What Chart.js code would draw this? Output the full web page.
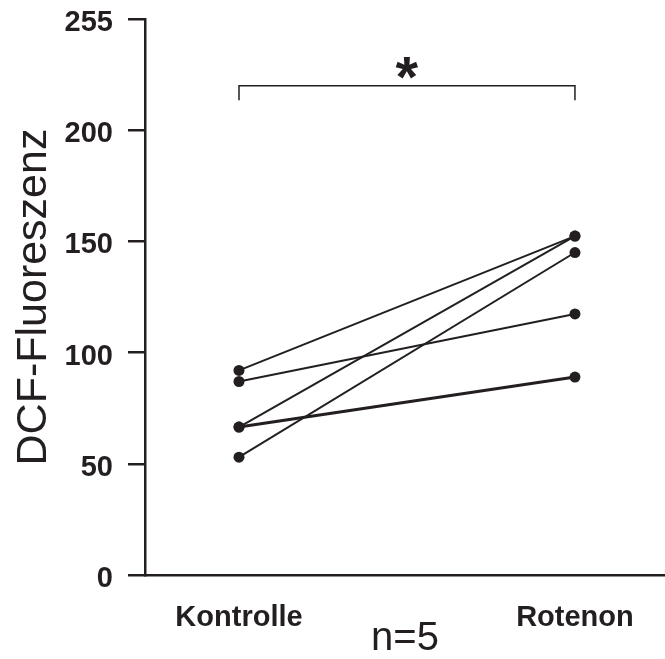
<!DOCTYPE html>
<html>
<head>
<meta charset="utf-8">
<title>DCF-Fluoreszenz</title>
<script src="https://cdn.jsdelivr.net/npm/chart.js@4"></script>
<style>
  html, body { margin: 0; padding: 0; background: #fff; }
  canvas { display: block; }
</style>
</head>
<body>
<canvas id="chart" width="665" height="659"></canvas>
<script>
// groups on the x axis
const categories = ['Kontrolle', 'Rotenon'];
// one value per subject (n=5), paired by index
const kontrolle = [92, 87, 66.5, 53, 66.5];
const rotenon = [152.4, 117.4, 152.4, 145, 89];
// y axis ticks and what is printed at them
const yTicks = [0, 50, 100, 150, 200, 250];
const yTickLabels = ['0', '50', '100', '150', '200', '255'];
// significance bracket (y values) and its mark
const bracket = [213.5, 220];
const starValue = 228;
const starText = '*';
const sampleNote = 'n=5';

const ink = '#231f20';
const fontFamily = "'Liberation Sans', Arial, Helvetica, sans-serif";

const datasets = kontrolle.map((k, i) => ({
  data: [{ x: 1, y: k }, { x: 2, y: rotenon[i] }],
  borderColor: ink,
  backgroundColor: ink,
  borderWidth: i === 4 ? 3 : 2,
  pointRadius: 5.5,
  pointBorderWidth: 0,
  pointBackgroundColor: ink,
  tension: 0
}));

const bracketPlugin = {
  id: 'bracket',
  afterDatasetsDraw(chart) {
    const { ctx, scales: { x, y } } = chart;
    const x1 = x.getPixelForValue(1);
    const x2 = x.getPixelForValue(2);
    const yLow = y.getPixelForValue(bracket[0]);
    const yHigh = y.getPixelForValue(bracket[1]);
    ctx.save();
    ctx.strokeStyle = ink;
    ctx.lineWidth = 1.5;
    ctx.beginPath();
    ctx.moveTo(x1, yLow);
    ctx.lineTo(x1, yHigh);
    ctx.lineTo(x2, yHigh);
    ctx.lineTo(x2, yLow);
    ctx.stroke();

    // centre the ink of the star on its value
    ctx.fillStyle = ink;
    ctx.font = 'bold 58px ' + fontFamily;
    ctx.textAlign = 'left';
    ctx.textBaseline = 'alphabetic';
    const m = ctx.measureText(starText);
    const cx = (x1 + x2) / 2;
    const cy = y.getPixelForValue(starValue);
    const inkW = m.actualBoundingBoxLeft + m.actualBoundingBoxRight;
    const inkH = m.actualBoundingBoxAscent + m.actualBoundingBoxDescent;
    ctx.fillText(starText,
      cx - inkW / 2 + m.actualBoundingBoxLeft,
      cy + inkH / 2 - m.actualBoundingBoxDescent);
    ctx.restore();
  }
};

new Chart(document.getElementById('chart'), {
  type: 'line',
  data: { datasets },
  options: {
    responsive: false,
    animation: false,
    devicePixelRatio: 1,
    layout: { autoPadding: false, padding: { top: 19, right: 0, bottom: 0, left: 0 } },
    plugins: {
      legend: { display: false },
      tooltip: { enabled: false }
    },
    scales: {
      x: {
        type: 'linear',
        min: 0.7202,
        max: 2.268,
        afterFit(scale) {
          scale.height = 84;
          scale.paddingLeft = 0;
          scale.paddingRight = 0;
        },
        afterBuildTicks(scale) {
          scale.ticks = categories.map((c, i) => ({ value: i + 1 }));
        },
        grid: { display: false, drawTicks: false },
        border: { display: true, color: ink, width: 2.5 },
        ticks: {
          color: ink,
          padding: 26,
          maxRotation: 0,
          autoSkip: false,
          font: { family: fontFamily, size: 29, weight: 'bold' },
          callback: (value) => categories[value - 1]
        },
        title: {
          display: true,
          text: sampleNote,
          color: ink,
          font: { family: fontFamily, size: 40, weight: 'normal', lineHeight: 1 },
          padding: { top: 0, bottom: 0 }
        }
      },
      y: {
        min: 0,
        max: 250,
        afterFit(scale) {
          scale.width = 145;
          scale.paddingTop = 0;
          scale.paddingBottom = 0;
        },
        afterBuildTicks(scale) {
          scale.ticks = yTicks.map(v => ({ value: v }));
        },
        grid: {
          drawOnChartArea: false,
          drawTicks: true,
          tickLength: 17,
          color: ink,
          lineWidth: 2.5
        },
        border: { display: true, color: ink, width: 2.5 },
        ticks: {
          color: ink,
          padding: 15,
          labelOffset: 4,
          font: { family: fontFamily, size: 29, weight: 'bold' },
          callback: (value) => yTickLabels[yTicks.indexOf(value)]
        },
        title: {
          display: true,
          text: 'DCF-Fluoreszenz',
          color: ink,
          font: { family: fontFamily, size: 43, weight: 'normal', lineHeight: 1 },
          padding: { top: 13, bottom: 0 }
        }
      }
    }
  },
  plugins: [bracketPlugin]
});
</script>
</body>
</html>
